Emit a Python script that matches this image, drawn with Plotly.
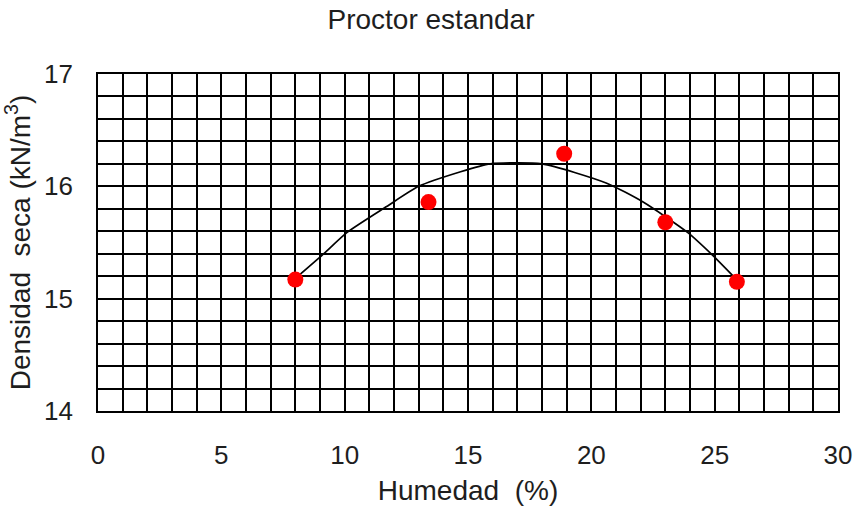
import plotly.graph_objects as go

# Compaction test results (Proctor estandar)
humedad = [8.0, 13.4, 18.9, 23.0, 25.9]
densidad = [15.17, 15.86, 16.29, 15.68, 15.15]

# Smoothed trend curve through the results
curva_x = [8.0, 9.1, 10.1, 11.7, 13.0, 14.7, 15.9, 18.0, 20.6, 22.1, 23.9, 24.9, 25.8]
curva_y = [15.18, 15.39, 15.59, 15.82, 16.0, 16.13, 16.2, 16.2, 16.03, 15.86, 15.59, 15.39, 15.19]

x_ticks = [0, 5, 10, 15, 20, 25, 30]
y_ticks = [14, 15, 16, 17]

fig = go.Figure()
fig.add_trace(go.Scatter(
    x=curva_x, y=curva_y, mode="lines",
    line=dict(color="black", width=1.7, shape="spline", smoothing=0.6),
    hoverinfo="skip", showlegend=False,
))
fig.add_trace(go.Scatter(
    x=humedad, y=densidad, mode="markers",
    marker=dict(color="#ff0000", size=16, line=dict(width=0)),
    showlegend=False,
))

font_family = "Liberation Sans, Arial, sans-serif"
text_color = "#1e1e1e"
fig.update_layout(
    width=862, height=506,
    margin=dict(l=98, r=24, t=74, b=95, autoexpand=False),
    paper_bgcolor="white", plot_bgcolor="white",
    font=dict(family=font_family, color=text_color, size=26),
    title=dict(text="Proctor estandar", x=0.5, xanchor="center",
               y=0.962, yanchor="middle", font=dict(size=28, color=text_color)),
    xaxis=dict(
        range=[0, 30], tickvals=x_ticks, ticks="", ticklen=0,
        ticklabelstandoff=20, automargin=False,
        showgrid=True, gridcolor="black", gridwidth=1.6,
        minor=dict(dtick=1, showgrid=True, gridcolor="black", gridwidth=1.6, ticks=""),
        showline=True, linecolor="black", linewidth=1.6, mirror=True,
        zeroline=False, tickfont=dict(size=26),
        title=dict(text="Humedad  (%)", font=dict(size=28), standoff=12),
    ),
    yaxis=dict(
        range=[14, 17], tickvals=y_ticks, ticks="", ticklen=0,
        ticklabelstandoff=18, automargin=False,
        showgrid=True, gridcolor="black", gridwidth=1.6,
        minor=dict(dtick=0.2, showgrid=True, gridcolor="black", gridwidth=1.6, ticks=""),
        showline=True, linecolor="black", linewidth=1.6, mirror=True,
        zeroline=False, tickfont=dict(size=26),
        title=dict(text="Densidad  seca (kN/m<sup>3</sup>)", font=dict(size=28), standoff=6),
    ),
)

fig.write_html("out.html")
